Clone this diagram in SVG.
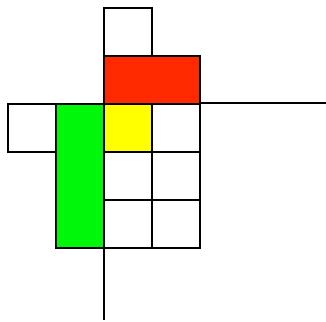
<svg xmlns="http://www.w3.org/2000/svg" width="326" height="322" viewBox="0 0 326 322">
<style>
.c{stroke:#000;stroke-width:2;fill:#fff}
.l{stroke:#000;stroke-width:2;fill:none}
</style>
<rect width="326" height="322" fill="#fff"/>
<g id="connectors">
<line class="l" x1="200" y1="103" x2="326" y2="103"/>
<line class="l" x1="104" y1="248" x2="104" y2="320"/>
</g>
<g id="top"><rect class="c" x="104" y="8" width="48" height="48"/></g>
<g id="red"><rect class="c" x="104" y="56" width="96" height="48" style="fill:#ff2a00"/></g>
<g id="left"><rect class="c" x="8" y="104" width="48" height="48"/></g>
<g id="green"><rect class="c" x="56" y="104" width="48" height="144" style="fill:#00f70a"/></g>
<g id="yellow"><rect class="c" x="104" y="104" width="48" height="48" style="fill:#ffff00"/></g>
<g id="c12"><rect class="c" x="152" y="104" width="48" height="48"/></g>
<g id="c21"><rect class="c" x="104" y="152" width="48" height="48"/></g>
<g id="c22"><rect class="c" x="152" y="152" width="48" height="48"/></g>
<g id="c31"><rect class="c" x="104" y="200" width="48" height="48"/></g>
<g id="c32"><rect class="c" x="152" y="200" width="48" height="48"/></g>
</svg>
